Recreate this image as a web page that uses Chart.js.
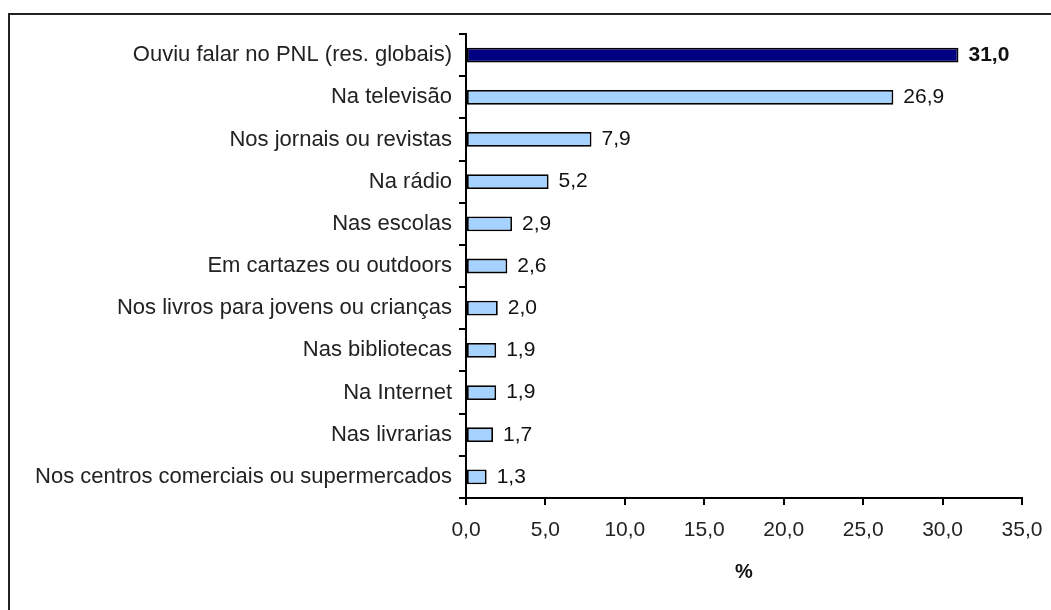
<!DOCTYPE html>
<html>
<head>
<meta charset="utf-8">
<script src="https://cdn.jsdelivr.net/npm/chart.js@4/dist/chart.umd.min.js"></script>
<style>
	html, body { margin:0; padding:0; background:#fff; overflow:hidden; }
	#wrap { position:relative; width:1051px; height:610px; }
	#frame { position:absolute; left:8px; top:13px; width:1200px; height:800px; border-left:2px solid #222; border-top:2px solid #222; }
	canvas { position:absolute; left:0; top:0; }
</style>
</head>
<body>
<div id="wrap">
	<div id="frame"></div>
	<canvas id="chart" width="1051" height="610"></canvas>
</div>
<script>
// Onde ouviu falar do PNL (%)
const categories = [
	'Ouviu falar no PNL (res. globais)',
	'Na televisão',
	'Nos jornais ou revistas',
	'Na rádio',
	'Nas escolas',
	'Em cartazes ou outdoors',
	'Nos livros para jovens ou crianças',
	'Nas bibliotecas',
	'Na Internet',
	'Nas livrarias',
	'Nos centros comerciais ou supermercados'
];
const values = [31.0, 26.9, 7.9, 5.2, 2.9, 2.6, 2.0, 1.9, 1.9, 1.7, 1.3];
const xTicks = [0, 5, 10, 15, 20, 25, 30, 35];
const axisTitle = '%';

const FONT = 'Arial, "Liberation Sans", sans-serif';
const fmt = v => v.toFixed(1).replace('.', ',');

const barColors = values.map((v, i) => i === 0 ? '#000080' : '#A6D2FF');

// value labels at bar ends
const valueLabels = {
	id: 'valueLabels',
	afterDatasetsDraw(chart){
		const ctx = chart.ctx;
		const meta = chart.getDatasetMeta(0);
		ctx.save();
		ctx.fillStyle = '#111';
		ctx.textBaseline = 'middle';
		ctx.textAlign = 'left';
		meta.data.forEach((bar, i) => {
			ctx.font = (i === 0 ? 'bold ' : '') + '21px ' + FONT;
			ctx.fillText(fmt(values[i]), bar.x + 10, bar.y);
		});
		ctx.restore();
	}
};

new Chart(document.getElementById('chart'), {
	type: 'bar',
	data: {
		labels: categories,
		datasets: [{
			data: values,
			backgroundColor: barColors,
			borderColor: '#000',
			borderWidth: 1.8,
			borderSkipped: false,
			barPercentage: 0.35,
			categoryPercentage: 1
		}]
	},
	options: {
		indexAxis: 'y',
		responsive: false,
		animation: false,
		layout: { padding: { top: 34, right: 29, left: 0, bottom: 0 } },
		plugins: { legend: { display:false }, tooltip: { enabled:false } },
		scales: {
			x: {
				min: 0, max: 35,
				afterBuildTicks(scale){ scale.ticks = xTicks.map(v => ({ value: v })); },
				afterFit(scale){ scale.height = 112; scale.paddingLeft = 0; scale.paddingRight = 0; },
				border: { display:true, color:'#000', width:2 },
				grid: { display:true, drawOnChartArea:false, drawTicks:true, tickLength:7, color:'#000', lineWidth:2 },
				ticks: { color:'#222', font:{ family:FONT, size:21 }, padding:13, maxRotation:0, callback: v => fmt(v) },
				title: { display:true, text:axisTitle, color:'#111', font:{ family:FONT, size:20, weight:'bold' }, padding:{ top:0, bottom:26 } }
			},
			y: {
				afterFit(scale){ scale.width = 466; },
				border: { display:true, color:'#000', width:2 },
				grid: { display:true, offset:true, drawOnChartArea:false, drawTicks:true, tickLength:7, color:'#000', lineWidth:2 },
				ticks: { color:'#222', font:{ family:FONT, size:22 }, padding:7, autoSkip:false }
			}
		}
	},
	plugins: [valueLabels]
});
</script>
</body>
</html>
